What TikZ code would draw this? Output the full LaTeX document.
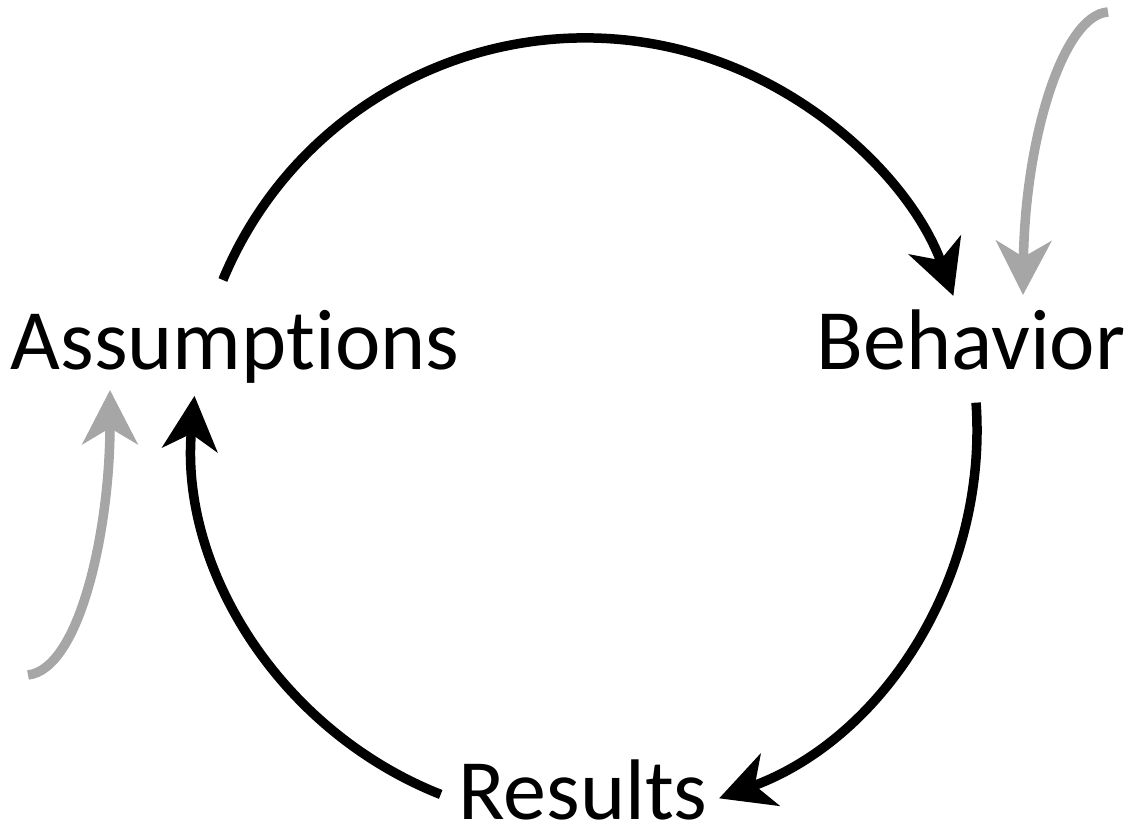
\documentclass[tikz,border=0pt]{standalone}
\usepackage{fontspec}
\setmainfont{Carlito}[Ligatures=NoCommon]
\usetikzlibrary{arrows.meta,calc}
\definecolor{softgray}{HTML}{A6A6A6}
\begin{document}
\begin{tikzpicture}[x=1pt,y=1pt,
    label/.style={inner sep=0pt, font=\fontsize{86}{90}\selectfont},
    cycle/.style={line width=9.5pt, draw=black,
      -{Stealth[length=54pt, width=55pt, inset=16pt]}},
    influence/.style={line width=9.5pt, draw=softgray,
      -{Stealth[length=54pt, width=55pt, inset=16pt]}}]
  \useasboundingbox (0,0) rectangle (1134,829);

  % the three stages of the loop
  \node[label, anchor=base] (assump) at (235,459) {Assumptions};
  \node[label, anchor=base] (behav) at (971,459) {Behavior};
  \node[label, anchor=base] (res) at (583,9) {Results};

  % arc end points on the loop circle (centre (585,399), radius 392)
  \coordinate (c) at (585,399);
  \coordinate (topStart) at ($(c)+(157.5:392)$);
  \coordinate (rightStart) at ($(c)+(4:392)$);
  \coordinate (leftStart) at ($(c)+(-111.6:392)$);

  % loop arrows
  \draw[cycle] (topStart) arc[start angle=157.5, end angle=20, radius=392];
  \draw[cycle] (rightStart) arc[start angle=4, end angle=-70, radius=392];
  \draw[cycle] (leftStart) arc[start angle=-111.6, end angle=-185, radius=392];

  % outside influences
  \coordinate (inTop) at (1108,817);
  \coordinate (inTopEnd) at (1023,534);
  \coordinate (inLeft) at (28,154);
  \coordinate (inLeftEnd) at (110,439);
  \draw[influence] (inTop) .. controls (1063,814) and (1025,690) .. (inTopEnd);
  \draw[influence] (inLeft) .. controls (80,160) and (110,300) .. (inLeftEnd);
\end{tikzpicture}
\end{document}
